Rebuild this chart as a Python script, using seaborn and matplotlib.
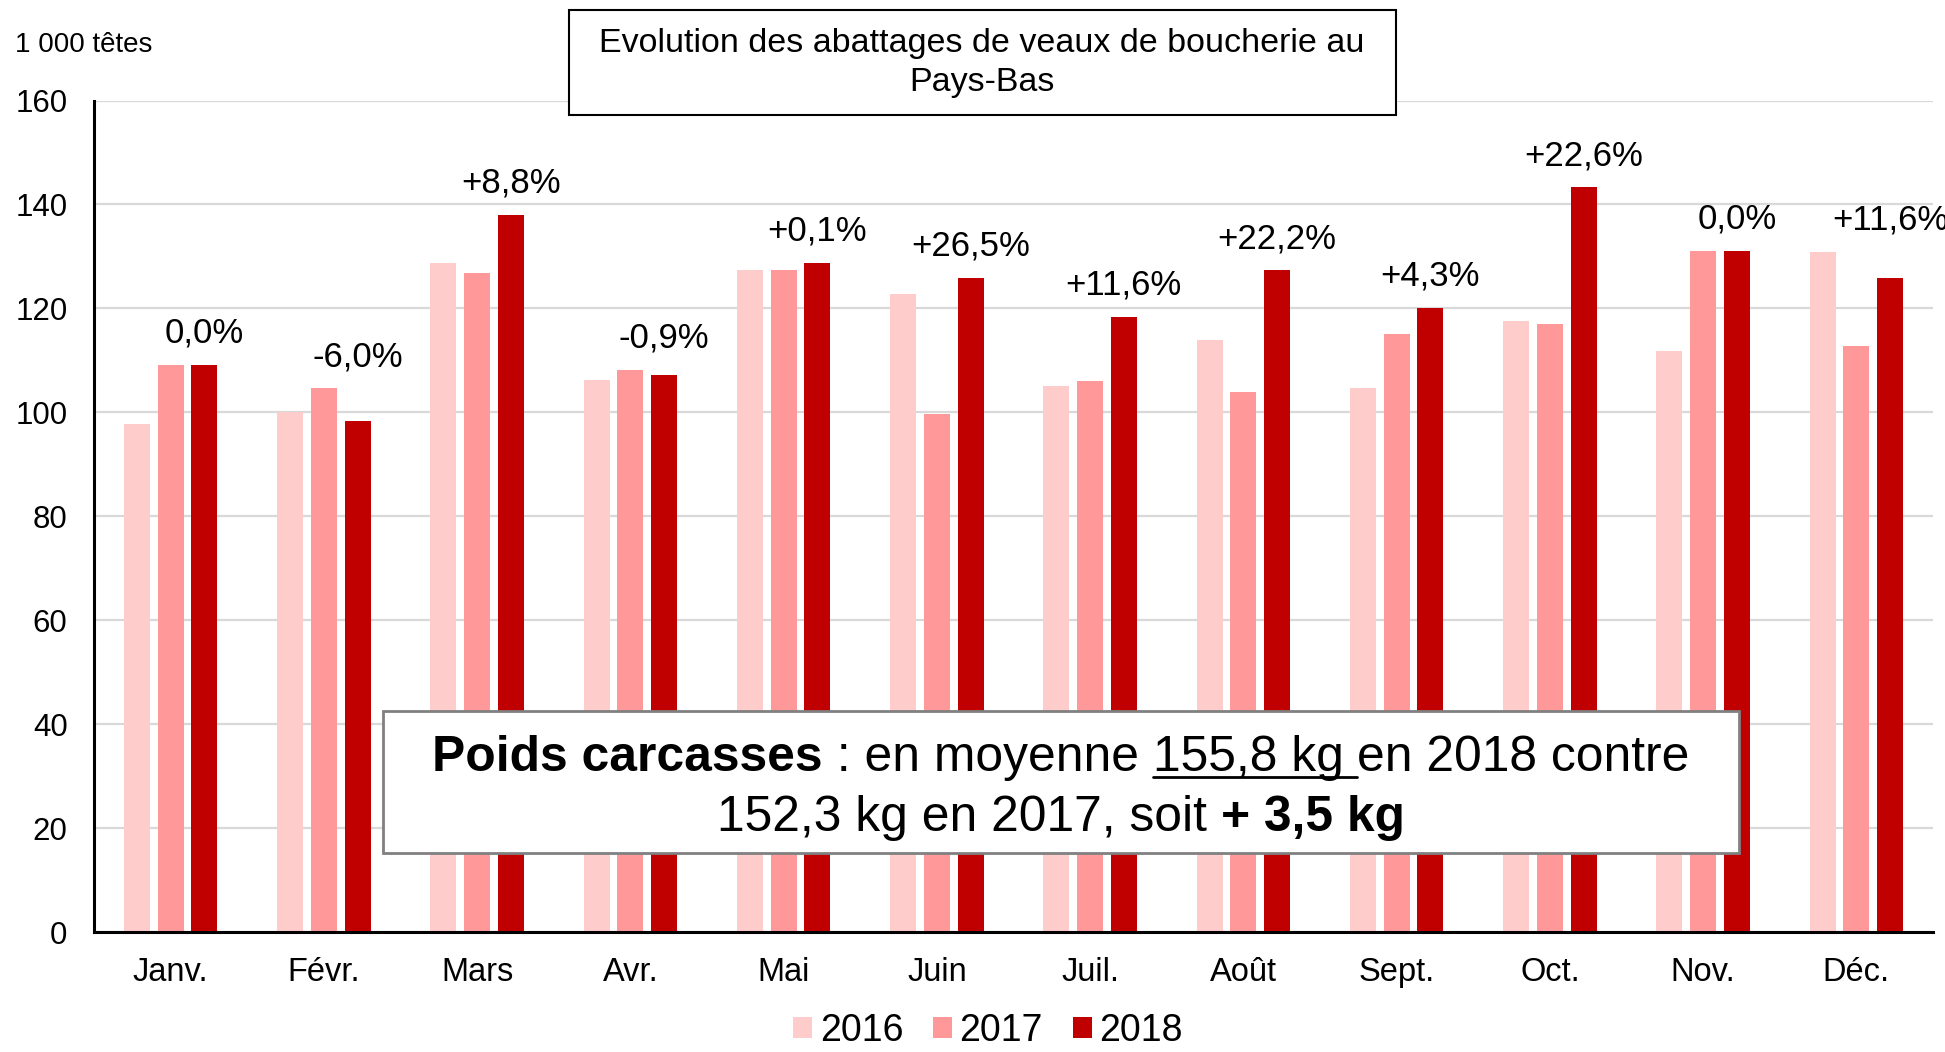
import matplotlib
matplotlib.use('Agg')
import matplotlib.pyplot as plt
from matplotlib.patches import Rectangle
from matplotlib.lines import Line2D
import seaborn as sns
import pandas as pd

# abattages mensuels, 1 000 têtes
mois = ['Janv.', 'Févr.', 'Mars', 'Avr.', 'Mai', 'Juin', 'Juil.', 'Août', 'Sept.', 'Oct.', 'Nov.', 'Déc.']
annees = ['2016', '2017', '2018']
v2016 = [97.7, 100.1, 128.7, 106.3, 127.3, 122.7, 105.1, 113.9, 104.6, 117.5, 111.8, 130.9]
v2017 = [109.1, 104.6, 126.8, 108.2, 127.3, 99.6, 106.0, 103.9, 115.1, 117.0, 131.1, 112.7]
v2018 = [109.1, 98.4, 138.0, 107.2, 128.7, 125.9, 118.4, 127.3, 120.1, 143.3, 131.1, 125.9]
evol = ['0,0%', '-6,0%', '+8,8%', '-0,9%', '+0,1%', '+26,5%', '+11,6%', '+22,2%', '+4,3%', '+22,6%', '0,0%', '+11,6%']
couleurs = ['#FFCCCC', '#FF9999', '#C00000']

df = pd.DataFrame({
    'mois': mois * 3,
    'annee': [a for a in annees for _ in mois],
    'tetes': v2016 + v2017 + v2018,
})

sns.set_style('white')
plt.rcParams['font.family'] = ['Liberation Sans', 'DejaVu Sans']
plt.rcParams['text.color'] = 'black'
plt.rcParams['xtick.color'] = 'black'
plt.rcParams['ytick.color'] = 'black'

W, H = 1945, 1052
fig = plt.figure(figsize=(W / 100, H / 100), dpi=100)
ax = fig.add_axes([94 / W, 1 - 932 / H, (1933 - 94) / W, (932 - 100.5) / H])

sns.barplot(data=df, x='mois', y='tetes', hue='annee', order=mois, hue_order=annees,
            palette=couleurs, width=0.66, gap=0.23, saturation=1, linewidth=0,
            errorbar=None, ax=ax)

ax.set_xlim(-0.5, 11.5)
ax.set_ylim(0, 160)
ax.set_yticks(range(0, 161, 20))
ax.set_xlabel('')
ax.set_ylabel('')
ax.yaxis.grid(True, color='#D9D9D9', lw=1.6)
ax.set_axisbelow(True)
for s in ['top', 'right']:
    ax.spines[s].set_visible(False)
for s in ['left', 'bottom']:
    ax.spines[s].set_color('black')
    ax.spines[s].set_linewidth(2.2)
ax.tick_params(axis='y', length=0, labelsize=22.5, pad=19)
ax.tick_params(axis='x', length=0, labelsize=23.5, pad=18)

# variation 2018/2017 au-dessus des barres
for i, p in enumerate(ax.containers[2]):
    x = p.get_x() + p.get_width() / 2
    haut = max(v2016[i], v2017[i], v2018[i])
    ax.annotate(evol[i], (x, haut), xytext=(0, 11), textcoords='offset points',
                ha='center', va='bottom', fontsize=25)

# legende en bas
handles, labels = ax.get_legend_handles_labels()
ax.legend(handles, labels, loc='center', bbox_to_anchor=(0.508, 0.02),
          bbox_transform=fig.transFigure, ncol=3, frameon=False, fontsize=27,
          handlelength=0.5, handleheight=0.5, handletextpad=0.2, columnspacing=0.8,
          borderpad=0.1)

fig.text(15 / W, 1 - 45 / H, '1 000 têtes', fontsize=20, va='center', ha='left')

# titre encadre
fig.add_artist(Rectangle((569 / W, 1 - 115 / H), (1396 - 569) / W, 105 / H,
                         transform=fig.transFigure, fc='white', ec='black', lw=1.5, zorder=5))
fig.text(982 / W, 1 - 63 / H, 'Evolution des abattages de veaux de boucherie au\nPays-Bas',
         fontsize=24.5, ha='center', va='center', linespacing=1.35, zorder=6)

# encadre poids carcasses
fig.add_artist(Rectangle((383 / W, 1 - 853 / H), (1739 - 383) / W, (853 - 711) / H,
                         transform=fig.transFigure, fc='white', ec='#808080', lw=2, zorder=5))

r = fig.canvas.get_renderer()
taille = 35.8


def largeur(s, w):
    t = fig.text(0, 0, '|' + s + '|', fontsize=taille, fontweight=w)
    a = t.get_window_extent(r).width
    t.set_text('||')
    b = t.get_window_extent(r).width
    t.remove()
    return a - b


def ligne(morceaux, xc, base):
    larg = [largeur(s, w) for s, w, u in morceaux]
    x = xc - sum(larg) / 2
    for (s, w, u), l in zip(morceaux, larg):
        fig.text(x / W, 1 - base / H, s, fontsize=taille, fontweight=w,
                 va='baseline', ha='left', zorder=7)
        if u:
            yl = 1 - (base + 6) / H
            fig.add_artist(Line2D([x / W, (x + l) / W], [yl, yl], transform=fig.transFigure,
                                  color='black', lw=2, zorder=7))
        x += l


xc = (383 + 1739) / 2
ligne([('Poids carcasses', 'bold', False), (' : en moyenne ', 'normal', False),
       ('155,8 kg ', 'normal', True), ('en 2018 contre', 'normal', False)], xc, 771)
ligne([('152,3 kg en 2017, soit ', 'normal', False), ('+ 3,5 kg', 'bold', False)], xc, 831)

fig.savefig('out.png', dpi=100)
